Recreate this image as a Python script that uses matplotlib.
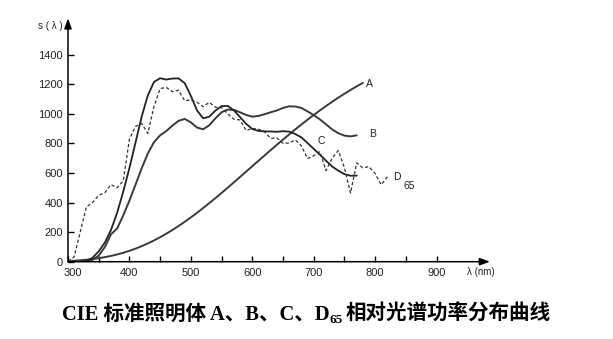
import matplotlib
matplotlib.use("Agg")
import matplotlib.pyplot as plt
import matplotlib.transforms as mtransforms
import numpy as np

# ---------------- data (relative spectral power) ----------------
wl_A = [300, 310, 320, 330, 340, 350, 360, 370, 380, 390, 400, 410, 420, 430, 440, 450,
        460, 470, 480, 490, 500, 510, 520, 530, 540, 550, 560, 570, 580, 590, 600, 610,
        620, 630, 640, 650, 660, 670, 680, 690, 700, 710, 720, 730, 740, 750, 760, 770, 780]
s_A = [4.7, 6.8, 9.7, 13.4, 18.0, 23.7, 30.7, 39.1, 49.0, 60.5, 73.5, 88.4, 105.0, 123.4,
       143.5, 165.5, 189.1, 214.4, 241.2, 269.6, 299.3, 330.3, 362.5, 395.7, 429.8, 464.6,
       500.0, 535.9, 572.2, 608.7, 645.2, 681.8, 718.1, 754.2, 789.9, 825.2, 859.8, 893.9,
       927.2, 959.7, 991.3, 1022.1, 1051.8, 1080.6, 1108.4, 1135.0, 1160.6, 1185.1, 1208.4]

wl_BC = [320, 330, 340, 350, 360, 370, 380, 390, 400, 410, 420, 430, 440, 450, 460, 470,
         480, 490, 500, 510, 520, 530, 540, 550, 560, 570, 580, 590, 600, 610, 620, 630,
         640, 650, 660, 670, 680, 690, 700, 710, 720, 730, 740, 750, 760, 770]
s_B = [0.2, 2.6, 12.7, 41, 99, 185, 224, 313, 413, 521, 632, 731, 808, 854, 883, 920,
       952, 965, 942, 907, 895, 922, 969, 1010, 1028, 1026, 1010, 992, 980, 985, 997, 1010,
       1022, 1039, 1050, 1049, 1039, 1016, 991, 962, 929, 894, 869, 852, 847, 854]
s_C = [0.1, 4, 27, 70, 129, 214, 330, 474, 633, 806, 981, 1124, 1215, 1240, 1231, 1238,
       1239, 1207, 1121, 1023, 969, 980, 1021, 1052, 1053, 1023, 978, 932, 897, 884, 881, 880,
       878, 882, 879, 863, 840, 802, 763, 724, 683, 644, 615, 592, 581, 582]

wl_D = [300, 310, 320, 330, 340, 350, 360, 370, 380, 390, 400, 410, 420, 430, 440, 450,
        460, 470, 480, 490, 500, 510, 520, 530, 540, 550, 560, 570, 580, 590, 600, 610,
        620, 630, 640, 650, 660, 670, 680, 690, 700, 710, 720, 730, 740, 750, 760, 770,
        780, 790, 800, 810, 820]
s_D = [3, 33, 202, 371, 400, 449, 466, 521, 500, 547, 828, 915, 934, 867, 1049, 1170,
       1178, 1149, 1159, 1088, 1094, 1078, 1048, 1077, 1044, 1041, 1000, 963, 958, 887, 900, 896,
       877, 833, 837, 800, 802, 823, 783, 697, 716, 744, 616, 699, 751, 636, 464, 668,
       634, 643, 595, 520, 574]

x_ticks = [300, 400, 500, 600, 700, 800, 900]
x_minor = [350, 450, 550, 650, 750, 850]
y_ticks = [0, 200, 400, 600, 800, 1000, 1200, 1400]

# ---------------- figure ----------------
fig = plt.figure(figsize=(6.13, 3.39), dpi=100, facecolor="white")
ax = fig.add_axes([0.1109, 0.228, 0.6884, 0.718])
ax.set_xlim(300, 987)
ax.set_ylim(0, 1645)
for sp in ax.spines.values():
    sp.set_visible(False)

line_col = "#3a3a3a"
ax.plot(wl_A, s_A, color=line_col, lw=1.4, solid_capstyle="round")
ax.plot(wl_BC, s_B, color=line_col, lw=1.4, solid_capstyle="round")
ax.plot(wl_BC, s_C, color="#222222", lw=1.3, solid_capstyle="round")
ax.plot(wl_D, s_D, color="#333333", lw=0.9, linestyle=(0, (2.6, 1.8)))

# axes with arrows
arrow_kw = dict(arrowstyle="-|>,head_length=0.6,head_width=0.22", color="black",
                lw=1.1, shrinkA=0, shrinkB=0)
ax.annotate("", xy=(1, 0), xytext=(0, 0), xycoords="axes fraction",
            textcoords="axes fraction", arrowprops=arrow_kw, annotation_clip=False)
ax.annotate("", xy=(0, 1), xytext=(0, 0), xycoords="axes fraction",
            textcoords="axes fraction", arrowprops=arrow_kw, annotation_clip=False)

tick_font = dict(family="Liberation Sans", size=8, color="#222222")
ax.set_xticks(x_ticks)
ax.set_xticklabels([str(v) for v in x_ticks], fontdict=tick_font)
ax.set_xticks(x_minor, minor=True)
ax.set_yticks(y_ticks)
ax.set_yticklabels([str(v) for v in y_ticks], fontdict=tick_font)
ax.tick_params(axis="x", which="both", direction="in", length=4, width=1.0, pad=4.5, color="black")
ax.tick_params(axis="y", which="both", direction="in", length=4, width=1.0, pad=3.5, color="black")
# shift the first x label a little to the right, as in the reference
lbl0 = ax.get_xticklabels()[0]
lbl0.set_transform(lbl0.get_transform() +
                   mtransforms.ScaledTranslation(5 / 100, 0, fig.dpi_scale_trans))

# axis titles
fig.text(50 / 613, 1 - 25.7 / 339, "s ( λ )", family="Liberation Sans", fontsize=7,
         ha="center", va="center", color="#222222")
fig.text(481 / 613, 1 - 272 / 339, "λ (nm)", family="Liberation Sans", fontsize=7,
         ha="center", va="center", color="#222222")

# curve labels
lab = dict(family="Liberation Sans", fontsize=7.5, color="#222222", ha="center", va="center")
ax.text(790, 1200, "A", **lab)
ax.text(796, 863, "B", **lab)
ax.text(712, 818, "C", **lab)
ax.text(835, 570, "D", **lab)
ax.text(856, 514, "65", **lab)

# caption
cap_fam = ["Liberation Serif", "Noto Sans CJK SC"]
t1 = fig.text(62 / 613, 1 - 320 / 339, "CIE 标准照明体 A、B、C、D", family=cap_fam,
              fontsize=14.8, fontweight="bold", ha="left", va="baseline", color="black")
t2 = ax.annotate("65", xy=(1, 0), xycoords=t1, xytext=(0, -0.5), textcoords="offset points",
                 family=cap_fam, fontsize=9.5, fontweight="bold", ha="left", va="bottom",
                 color="black", annotation_clip=False)
t3 = ax.annotate("相对光谱功率分布曲线", xy=(1, 0), xycoords=t2, xytext=(2, 0.5),
                 textcoords="offset points", family=cap_fam, fontsize=14.8, fontweight="bold",
                 ha="left", va="bottom", color="black", annotation_clip=False)

fig.savefig("out.png", dpi=100, facecolor="white")
